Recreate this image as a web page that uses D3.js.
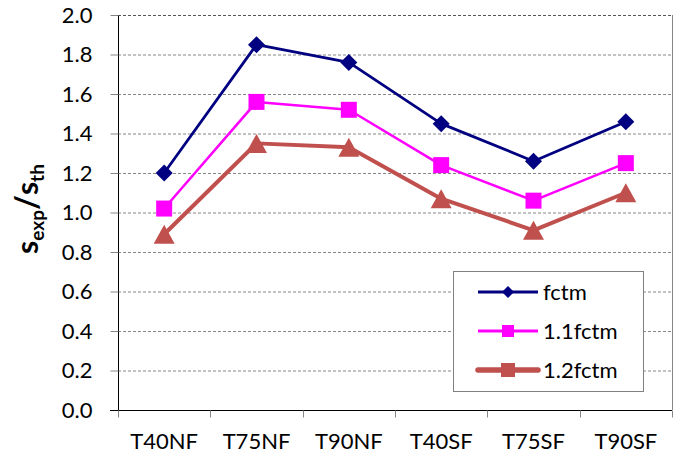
<!DOCTYPE html>
<html><head><meta charset="utf-8">
<script src="https://cdn.jsdelivr.net/npm/d3@7"></script>
<style>body{margin:0;background:#fff}svg{display:block}text{font-family:Lato,"Open Sans",sans-serif}</style>
</head><body><svg id="c" width="686" height="464"></svg>
<script>
const categories = ["T40NF","T75NF","T90NF","T40SF","T75SF","T90SF"];
const fctm   = [1.20, 1.85, 1.76, 1.45, 1.26, 1.46];
const fctm11 = [1.02, 1.56, 1.52, 1.24, 1.06, 1.25];
const fctm12 = [0.89, 1.35, 1.33, 1.07, 0.91, 1.10];
const yTicks = [0,0.2,0.4,0.6,0.8,1.0,1.2,1.4,1.6,1.8,2.0];
const seriesNames = ["fctm","1.1fctm","1.2fctm"];

const svg = d3.select("#c");
const L=118,R=672,T=15,B=410;
const x = d3.scaleBand().domain(categories).range([L,R]);
const y = d3.scaleLinear().domain([0,2]).range([B,T]);

// gridlines
svg.append("g").selectAll("line").data(yTicks.filter(d=>d>0)).join("line")
  .attr("x1",L).attr("x2",R).attr("y1",d=>y(d)+0.5).attr("y2",d=>y(d)+0.5)
  .attr("stroke",d=>d===2?"#555":"#868686").attr("stroke-width",1).attr("stroke-dasharray","3,2");
// right border
svg.append("line").attr("x1",R+0.5).attr("x2",R+0.5).attr("y1",T).attr("y2",B).attr("stroke","#868686");

// y axis
const ya = svg.append("g").attr("transform",`translate(${L+0.5},0)`)
  .call(d3.axisLeft(y).tickValues(yTicks).tickFormat(d3.format(".1f")).tickSize(8).tickPadding(18));
ya.select(".domain").attr("stroke","#000").attr("d",`M0,${T}V${B}`);
ya.selectAll(".tick line").attr("stroke","#868686");
ya.selectAll("text").attr("font-size",22).attr("fill","#000").attr("font-family","Lato");

// x axis
const xa = svg.append("g").attr("transform",`translate(0,${B+0.5})`)
  .call(d3.axisBottom(x).tickSize(0).tickPadding(23));
xa.select(".domain").attr("stroke","#000").attr("d",`M${L-8},0H${R}`);
xa.selectAll("text").attr("font-size",22).attr("fill","#000").attr("font-family","Lato");
const bounds = categories.map(c=>x(c)).concat([x(categories[categories.length-1])+x.bandwidth()]);
xa.selectAll(".bt").data(bounds).join("line").attr("class","bt")
  .attr("x1",d=>Math.round(d)+0.5).attr("x2",d=>Math.round(d)+0.5).attr("y1",0).attr("y2",7).attr("stroke","#868686");

// y title
const tt = svg.append("text").attr("transform","translate(38,209) rotate(-90)")
  .attr("text-anchor","middle").attr("font-weight","bold").attr("fill","#000");
tt.append("tspan").attr("font-size",30).text("s");
tt.append("tspan").attr("font-size",19).attr("dy",6).text("exp");
tt.append("tspan").attr("font-size",32).attr("dy",-6).text("/");
tt.append("tspan").attr("font-size",30).text("s");
tt.append("tspan").attr("font-size",19).attr("dy",6).text("th");

const cx = c=>x(c)+x.bandwidth()/2;
const diamond = s=>`M0,${-s}L${s},0L0,${s}L${-s},0Z`;
const square = s=>`M${-s},${-s}H${s}V${s}H${-s}Z`;
const tri = (w,h)=>`M0,${-h/2}L${w/2},${h/2}L${-w/2},${h/2}Z`;

const series = [
  {name:seriesNames[0], vals:fctm, color:"#000080", lw:2.75, mark:diamond(8.5), lmark:diamond(6), llw:3},
  {name:seriesNames[1], vals:fctm11, color:"#FF00FF", lw:2.5, mark:square(8), lmark:square(6), llw:3},
  {name:seriesNames[2], vals:fctm12, color:"#C0504D", lw:4, mark:tri(21,19), lmark:square(7), llw:5.5}
];
const line = d3.line().x((d,i)=>cx(categories[i])).y(d=>y(d));
series.forEach(s=>{
  svg.append("path").attr("d",line(s.vals)).attr("fill","none").attr("stroke",s.color).attr("stroke-width",s.lw).attr("stroke-linejoin","round");
});
series.forEach(s=>{
  svg.append("g").selectAll("path").data(s.vals).join("path")
    .attr("transform",(d,i)=>`translate(${cx(categories[i])},${y(d)})`)
    .attr("d",s.mark).attr("fill",s.color);
});

// legend
const lg = svg.append("g");
lg.append("rect").attr("x",453.5).attr("y",271.5).attr("width",190).attr("height",120)
  .attr("fill","#fff").attr("stroke","#808080").attr("stroke-width",1);
const rowsY=[292,331,370];
series.forEach((s,i)=>{
  const g = lg.append("g").attr("transform",`translate(0,${rowsY[i]})`);
  g.append("line").attr("x1",478).attr("x2",538).attr("y1",0).attr("y2",0)
    .attr("stroke",s.color).attr("stroke-width",s.llw).attr("stroke-linecap",i===2?"round":"butt");
  g.append("path").attr("transform","translate(508,0)").attr("d",s.lmark).attr("fill",s.color);
  g.append("text").attr("x",543).attr("y",0).attr("dy","0.35em").attr("font-size",22).attr("fill","#000").text(s.name);
});
</script></body></html>
